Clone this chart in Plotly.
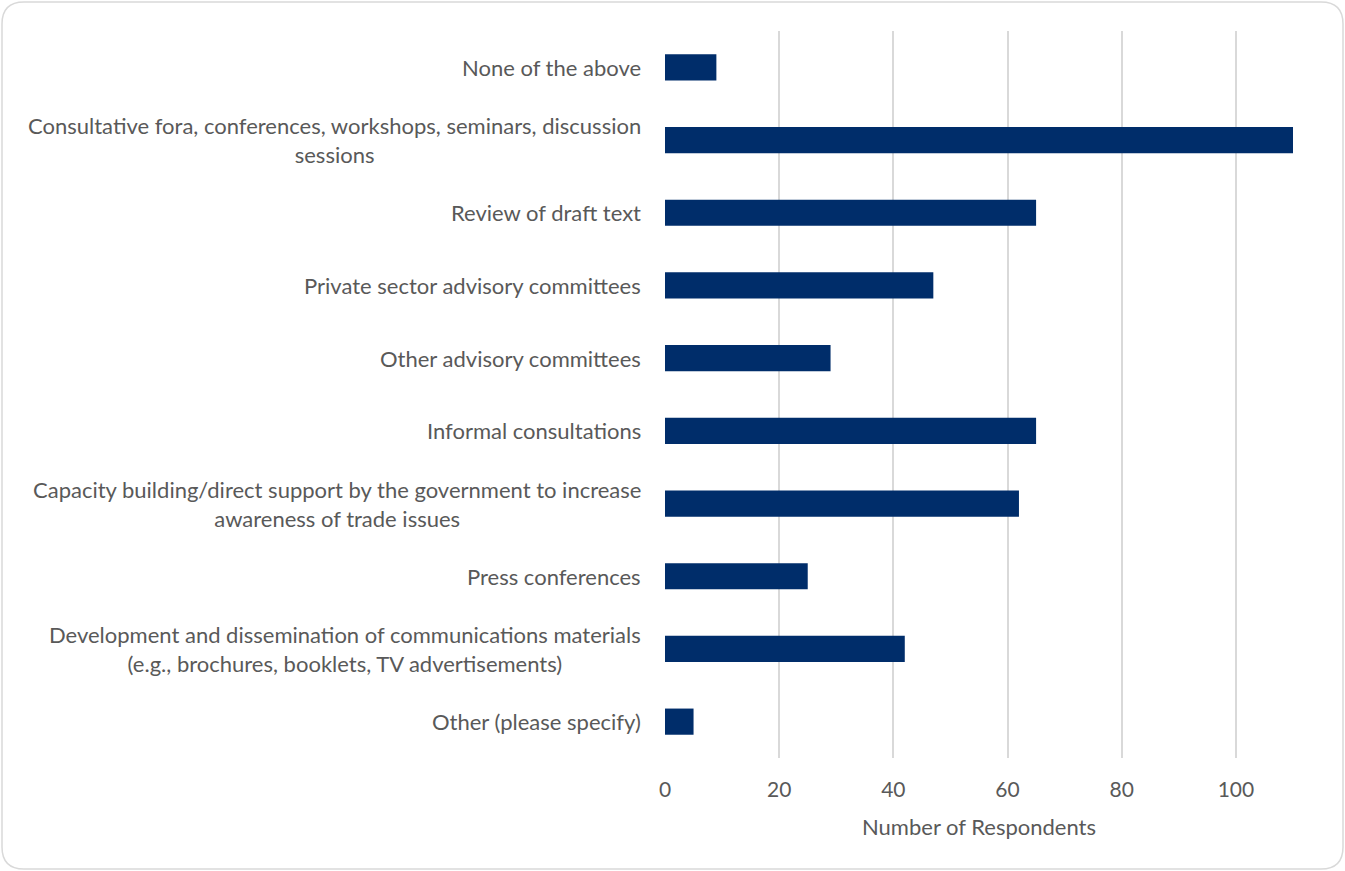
import plotly.graph_objects as go

categories = [
    "None of the above",
    "Consultative fora, conferences, workshops, seminars, discussion<br>sessions",
    "Review of draft text",
    "Private sector advisory committees",
    "Other advisory committees",
    "Informal consultations",
    "Capacity building/direct support by the government to increase<br>awareness of trade issues",
    "Press conferences",
    "Development and dissemination of communications materials<br>(e.g., brochures, booklets, TV advertisements)",
    "Other (please specify)",
]
values = [9, 110, 65, 47, 29, 65, 62, 25, 42, 5]
x_ticks = [0, 20, 40, 60, 80, 100]
x_title = "Number of Respondents"

W, H = 1345, 871
L, R, T, B = 665, 52, 31, 113
PW, PH = W - L - R, H - T - B
FONT = "Lato"
GREY = "#595959"
BAR = "#002D6A"

ids = list(range(len(categories)))

fig = go.Figure(go.Bar(
    x=values, y=ids, orientation="h",
    marker=dict(color=BAR, line=dict(width=0)),
    width=0.36, hoverinfo="x",
))

for i, lab in zip(ids, categories):
    fig.add_annotation(
        x=0, xref="paper", y=i, yref="y", text=lab, showarrow=False,
        xanchor="right", yanchor="middle", align="center", xshift=-22,
        font=dict(family=FONT, size=22, color=GREY),
    )

def px2paper(px, py):
    return (px - L) / PW, (H - B - py) / PH

def rounded_rect(x0, y0, x1, y1, r):
    pts = []
    def P(cmd, *coords):
        s = cmd
        for k in range(0, len(coords), 2):
            a, b = px2paper(coords[k], coords[k + 1])
            s += f" {a:.5f},{b:.5f}"
        pts.append(s)
    P("M", x0 + r, y0)
    P("L", x1 - r, y0)
    P("Q", x1, y0, x1, y0 + r)
    P("L", x1, y1 - r)
    P("Q", x1, y1, x1 - r, y1)
    P("L", x0 + r, y1)
    P("Q", x0, y1, x0, y1 - r)
    P("L", x0, y0 + r)
    P("Q", x0, y0, x0 + r, y0)
    return " ".join(pts) + " Z"

fig.add_shape(type="path", xref="paper", yref="paper",
              path=rounded_rect(2, 2, 1343, 869, 22),
              line=dict(color="#D9D9D9", width=1.5), layer="below")

fig.update_layout(
    width=W, height=H,
    margin=dict(l=L, r=R, t=T, b=B, pad=0),
    paper_bgcolor="white", plot_bgcolor="white",
    showlegend=False,
    font=dict(family=FONT, color=GREY, size=21),
    xaxis=dict(
        range=[0, 110], tickvals=x_ticks, ticktext=[str(v) for v in x_ticks],
        showgrid=True, gridcolor="#D9D9D9", gridwidth=1.5,
        zeroline=False, showline=False, ticks="",
        tickfont=dict(family=FONT, size=21, color=GREY),
        ticklabelstandoff=17,
        title=dict(text=x_title, font=dict(family=FONT, size=22, color=GREY), standoff=19),
    ),
    yaxis=dict(
        range=[len(categories) - 0.5, -0.5],
        showticklabels=False, showgrid=False, zeroline=False, ticks="",
        showline=False,
    ),
)

fig.write_html("out.html", config={"displayModeBar": False},
               post_script="document.body.style.margin='0';")
